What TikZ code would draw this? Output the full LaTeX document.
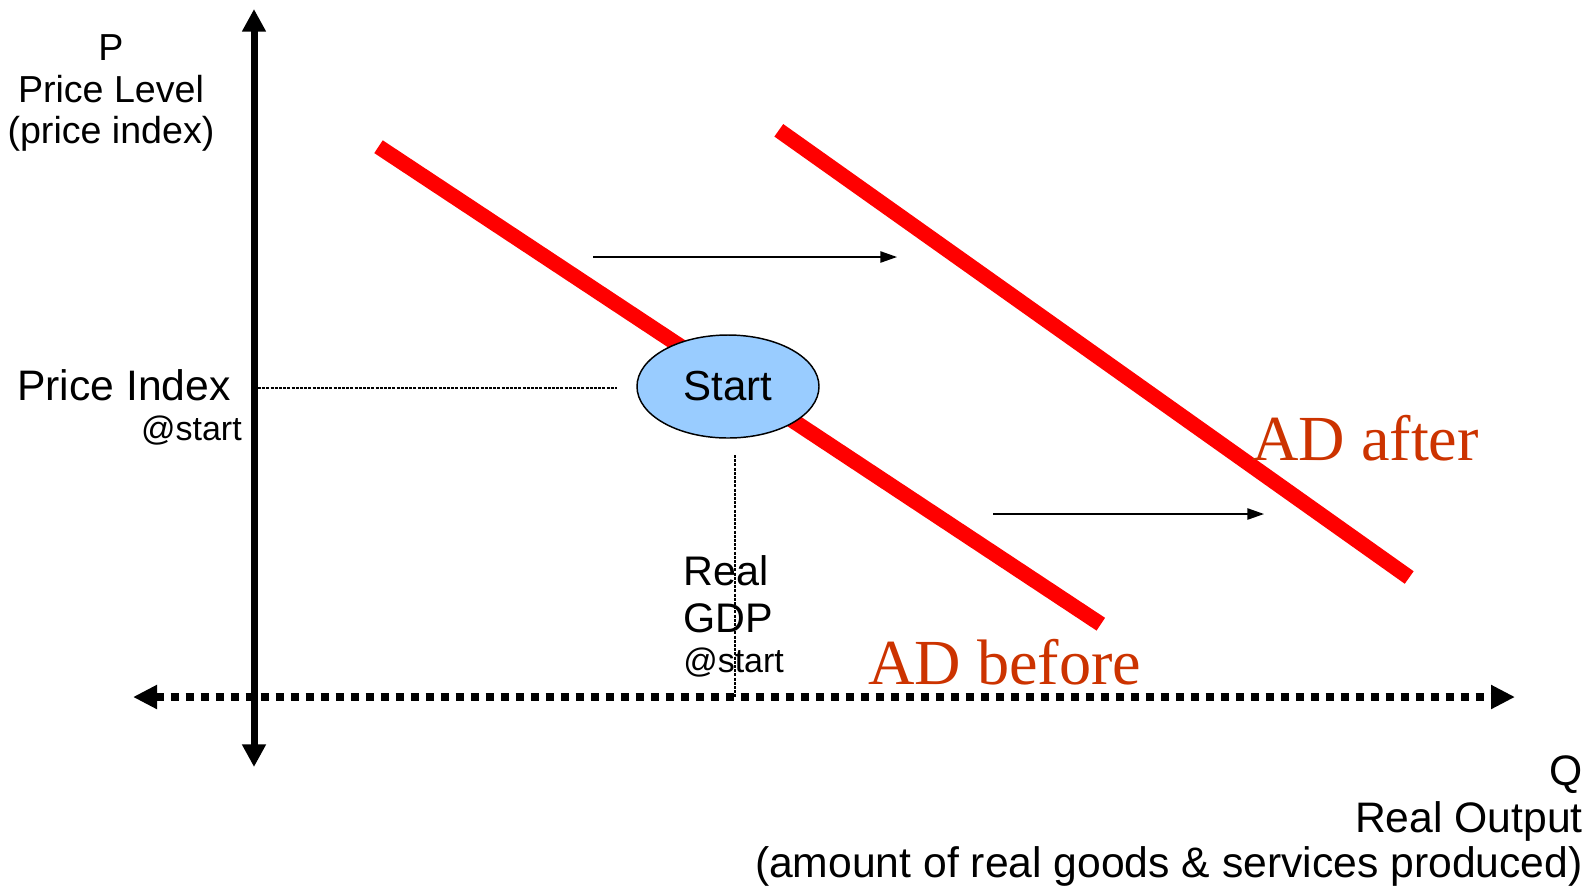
\documentclass[tikz,border=0pt]{standalone}
\usepackage{fontspec}
\setmainfont{Liberation Sans}
\newfontfamily\adfont{Liberation Serif}
\usetikzlibrary{shapes.geometric,arrows.meta}
\definecolor{adred}{HTML}{FF0000}
\definecolor{adtext}{HTML}{CC3300}
\definecolor{startblue}{HTML}{99CCFF}
\begin{document}
\begin{tikzpicture}[x=0.75pt,y=-0.75pt,
  curve/.style={draw=adred,line width=11.5pt},
  axisline/.style={line width=5.25pt},
  shiftarrow/.style={line width=1.1pt,-{Triangle[length=12.5pt,width=8.5pt]}},
  guide/.style={line width=1.6pt,dash pattern=on 2.25pt off 0.9pt},
  axlbl/.style={inner sep=0,font=\fontsize{28.2}{30}\selectfont},
  qlbl/.style={inner sep=0,font=\fontsize{32}{35}\selectfont},
  idxlbl/.style={inner sep=0,font=\fontsize{32}{35}\selectfont},
  gdplbl/.style={inner sep=0,font=\fontsize{31}{35}\selectfont},
  atlbl/.style={inner sep=0,font=\fontsize{25.5}{30}\selectfont},
  adlbl/.style={inner sep=0,text=adtext,font=\adfont\fontsize{48.2}{50}\selectfont},
  startnode/.style={ellipse,draw,line width=1.1pt,fill=startblue,minimum width=136.5pt,minimum height=77.25pt,inner sep=0,font=\fontsize{31.5}{35}\selectfont}
]
\useasboundingbox (0,0) rectangle (1595,894);

% axes
\coordinate (ytop) at (254,9);
\coordinate (ybot) at (254,767);
\coordinate (xleft) at (133,697);
\coordinate (xright) at (1515,697);
\draw[axisline,{Triangle[length=17pt,width=17pt]}-{Triangle[length=17pt,width=17pt]}] (ybot) -- (ytop);
\draw[line width=6pt,dash pattern=on 6pt off 5.25pt,{Triangle[length=18pt,width=17pt]}-{Triangle[length=18pt,width=17pt]}] (xleft) -- (xright);

% guide lines
\coordinate (g1a) at (258,388);
\coordinate (g1b) at (617,388);
\coordinate (g2a) at (735,455);
\coordinate (g2b) at (735,697);
\draw[guide] (g1a) -- (g1b);
\draw[guide] (g2a) -- (g2b);

% AD curves
\coordinate (b1) at (378.5,146.7);
\coordinate (b2) at (1100.8,624.2);
\coordinate (a1) at (778.8,130.3);
\coordinate (a2) at (1409.2,577.5);
\draw[curve] (b1) -- (b2);
\draw[curve] (a1) -- (a2);

% start point
\node[startnode] (start) at (728,386.5) {Start};

% shift arrows
\coordinate (s1a) at (593,257);
\coordinate (s1b) at (897,257);
\coordinate (s2a) at (993,514);
\coordinate (s2b) at (1264,514);
\draw[shiftarrow] (s1a) -- (s1b);
\draw[shiftarrow] (s2a) -- (s2b);

% labels
\node[axlbl,anchor=base] (plab) at (111,60) {P};
\node[axlbl,anchor=base] (plevel) at (111,102) {Price Level};
\node[axlbl,anchor=base] (pindex) at (111,143) {(price index)};

\node[idxlbl,anchor=base west] (pidx) at (17,400) {Price Index};
\node[atlbl,anchor=base east] (pidxat) at (242,440) {@start};

\node[gdplbl,anchor=base west] (greal) at (683,585) {Real};
\node[gdplbl,anchor=base west] (ggdp) at (683,632) {GDP};
\node[atlbl,anchor=base west] (gat) at (683,672) {@start};

\node[qlbl,anchor=base east] (qlab) at (1583,785) {Q};
\node[qlbl,anchor=base east] (qreal) at (1583,832) {Real Output};
\node[qlbl,anchor=base east] (qamt) at (1583,877) {(amount of real goods \& services produced)};

\node[adlbl,anchor=base west] (adafter) at (1252,460) {AD after};
\node[adlbl,anchor=base west] (adbefore) at (868,684) {AD before};
\end{tikzpicture}
\end{document}
